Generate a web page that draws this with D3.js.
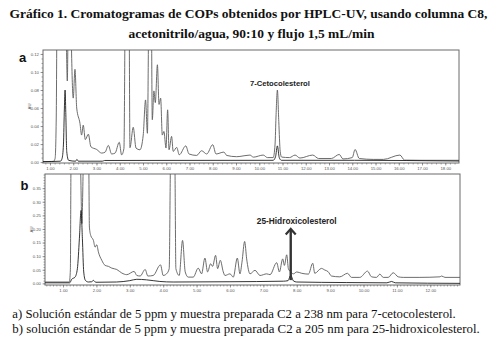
<!DOCTYPE html>
<html>
<head>
<meta charset="utf-8">
<script src="https://cdn.jsdelivr.net/npm/d3@7"></script>
<style>
  body { margin: 0; background: #ffffff; }
</style>
</head>
<body>
<div id="chart"></div>
<script>
// textos
var titleLines = [
    'Gráfico 1. Cromatogramas de COPs obtenidos por HPLC-UV, usando columna C8,',
    'acetonitrilo/agua, 90:10 y flujo 1,5 mL/min'
];
var captionLines = [
    'a) Solución estándar de 5 ppm y muestra preparada C2 a 238 nm para 7-cetocolesterol.',
    'b) solución estándar de 5 ppm y muestra preparada C2 a 205 nm para 25-hidroxicolesterol.'
];

// panel a : tiempo (min) y absorbancia (AU)
var timeSampleA = [0.70, 1.15, 1.22, 1.27, 1.31, 1.45, 1.62, 1.70, 1.745, 1.80, 1.87, 1.93, 2.00, 2.075, 2.15,
    2.29, 2.36, 2.43, 2.52, 2.65, 2.76, 3.01, 3.22, 3.37, 3.51, 3.65, 3.80, 3.98, 4.08, 4.18, 4.24, 4.33, 4.40,
    4.44, 4.58, 4.70, 4.87, 5.01, 5.11, 5.19, 5.26, 5.34, 5.40, 5.47, 5.53, 5.62, 5.69, 5.76, 5.83, 5.90, 5.99,
    6.06, 6.12, 6.23, 6.30, 6.45, 6.56, 6.84, 6.98, 7.31, 7.52, 7.74, 8.00, 8.14, 8.48, 8.60, 9.03, 9.17, 9.60,
    9.75, 10.17, 10.35, 10.60, 10.68, 10.72, 10.78, 10.84, 10.90, 10.96, 11.30, 11.54, 11.75, 12.30, 12.55,
    13.10, 13.44, 13.60, 14.00, 14.12, 14.30, 14.90, 15.34, 16.05, 16.25, 17.00, 18.60];
var sampleA = [0.0005, 0.0008, 0.004, 0.05, 0.20, 0.30, 0.20, 0.14, 0.09, 0.20, 0.22, 0.12, 0.071, 0.103, 0.060,
    0.043, 0.030, 0.041, 0.025, 0.031, 0.017, 0.014, 0.010, 0.011, 0.0185, 0.009, 0.010, 0.022, 0.008, 0.015, 0.20, 0.35, 0.20,
    0.016, 0.0386, 0.0156, 0.0137, 0.030, 0.069, 0.032, 0.20, 0.25, 0.047, 0.079, 0.066, 0.108, 0.064, 0.071, 0.030, 0.034, 0.0156,
    0.058, 0.0137, 0.0285, 0.0119, 0.0163, 0.0081, 0.018, 0.009, 0.0074, 0.0126, 0.009, 0.0193, 0.009, 0.0111, 0.0074, 0.006, 0.0063, 0.0078,
    0.0055, 0.0078, 0.005, 0.005, 0.02, 0.05, 0.080, 0.045, 0.012, 0.0056, 0.005, 0.0078, 0.0045, 0.0078, 0.004,
    0.004, 0.0085, 0.0035, 0.005, 0.014, 0.004, 0.003, 0.003, 0.0078, 0.0022, 0.002, 0.002];
var timeStdA = [0.70, 1.45, 1.52, 1.58, 1.62, 1.65, 1.68, 1.72, 1.80, 2.10, 2.16, 2.22, 3.25, 3.35, 10.60, 10.70,
    10.78, 10.86, 10.95, 14.10, 18.60];
var stdA = [0.0005, 0.001, 0.004, 0.02, 0.06, 0.080, 0.055, 0.012, 0.002, 0.001, 0.003, 0.001, 0.001, 0.0018, 0.002, 0.006,
    0.018, 0.005, 0.002, 0.002, 0.0012];

// panel b
var timeSampleB = [0.46, 1.19, 1.22, 1.24, 1.40, 1.52, 1.565, 1.61, 1.70, 1.77, 1.79, 1.83, 1.91, 1.96, 2.01, 2.06,
    2.16, 2.26, 2.36, 2.46, 2.61, 2.76, 2.91, 3.13, 3.21, 3.31, 3.46, 3.54, 3.70, 3.92, 4.00, 4.10, 4.18, 4.22,
    4.30, 4.35, 4.38, 4.48, 4.58, 4.66, 4.75, 4.90, 5.05, 5.15, 5.25, 5.33, 5.42, 5.48, 5.57, 5.63, 5.71, 5.80,
    5.85, 6.00, 6.10, 6.22, 6.30, 6.36, 6.44, 6.50, 6.60, 6.75, 6.90, 7.10, 7.20, 7.40, 7.48, 7.58, 7.63, 7.70,
    7.75, 7.82, 7.90, 8.00, 8.15, 8.35, 8.48, 8.54, 8.74, 8.84, 8.94, 9.04, 9.29, 9.52, 9.64, 9.89, 10.12, 10.24,
    10.39, 10.49, 10.59, 10.74, 10.89, 11.04, 11.19, 11.69, 12.29, 12.34, 12.44, 12.89];
var sampleB = [0.005, 0.005, 0.05, 0.45, 0.60, 0.45, 0.22, 0.45, 0.60, 0.45, 0.207, 0.176, 0.158, 0.133, 0.142, 0.115,
    0.085, 0.066, 0.0625, 0.056, 0.051, 0.038, 0.032, 0.044, 0.029, 0.027, 0.051, 0.027, 0.029, 0.068, 0.029, 0.035, 0.054, 0.45,
    0.60, 0.45, 0.054, 0.029, 0.158, 0.042, 0.023, 0.023, 0.056, 0.035, 0.093, 0.042, 0.072, 0.0625, 0.103, 0.054, 0.085, 0.042,
    0.029, 0.035, 0.023, 0.093, 0.035, 0.078, 0.154, 0.090, 0.035, 0.048, 0.029, 0.035, 0.032, 0.076, 0.042, 0.090, 0.066, 0.105,
    0.054, 0.042, 0.035, 0.042, 0.037, 0.034, 0.074, 0.037, 0.055, 0.049, 0.043, 0.027, 0.024, 0.037, 0.022, 0.022, 0.045, 0.024,
    0.022, 0.034, 0.022, 0.022, 0.039, 0.024, 0.022, 0.022, 0.024, 0.027, 0.022, 0.022];
var timeStdB = [0.46, 1.20, 1.26, 1.36, 1.43, 1.49, 1.54, 1.58, 1.62, 1.67, 1.76, 1.86, 1.91, 1.98, 2.60, 3.00,
    3.21, 3.50, 3.90, 4.30, 6.00, 7.60, 7.74, 7.82, 7.90, 8.00, 9.50, 10.70, 10.84, 10.95, 12.89];
var stdB = [0.002, 0.002, 0.015, 0.023, 0.054, 0.164, 0.268, 0.164, 0.042, 0.011, 0.005, 0.006, 0.011, 0.004, 0.005, 0.010,
    0.015, 0.013, 0.007, 0.005, 0.006, 0.008, 0.010, 0.030, 0.009, 0.005, 0.003, 0.002, 0.007, 0.002, 0.0];

// ejes
var xTicksA = d3.range(1, 19);
var yTicksA = [0.00, 0.02, 0.04, 0.06, 0.08, 0.10, 0.12];
var xTicksB = d3.range(1, 13);
var yTicksB = [0.00, 0.05, 0.10, 0.15, 0.20, 0.25, 0.30, 0.35];

// anotaciones: [texto, tiempo, AU]
var labelA = ['7-Cetocolesterol', 10.89, 0.0848];
var labelB = ['25-Hidroxicolesterol', 8.0, 0.218];
var arrowB = [7.82, 0.012, 0.200];

var svgwidth = 497, svgheight = 364;
var _svg = d3.select('#chart').append('svg')
    .attr('width', svgwidth)
    .attr('height', svgheight)
    .style('font-family', 'Liberation Sans, Arial, sans-serif');

//ajusta el tamaño de letra para que el texto mida "ancho" px
function fitText(sel, baseSize, widths) {
    sel.each(function (d, i) {
        var w = this.getComputedTextLength();
        d3.select(this).style('font-size', (baseSize * widths[i] / w).toFixed(2) + 'px');
    });
}

//titulo
var _title = _svg.selectAll('.title')
    .data(titleLines)
    .enter()
    .append('text')
    .attr('class', 'title')
    .attr('x', function (d, i) { return i === 0 ? 248.5 : 251.5; })
    .attr('y', function (d, i) { return 17.5 + i * 20; })
    .attr('text-anchor', 'middle')
    .style('font-family', 'Liberation Serif, serif')
    .style('font-weight', 'bold').style('font-size', '14px')
    .attr('fill', '#111')
    .text(function (d) { return d; });
fitText(_title, 14, [478, 246]);

//pie de figura
var _caption = _svg.selectAll('.caption')
    .data(captionLines)
    .enter()
    .append('text')
    .attr('class', 'caption')
    .attr('x', 12.3)
    .attr('y', function (d, i) { return 317.7 + i * 15.6; })
    .style('font-family', 'Liberation Serif, serif')
    .style('font-size', '12px')
    .attr('fill', '#111')
    .text(function (d) { return d; });
fitText(_caption, 12, [444, 468]);

function drawPanel(cfg) {
    var x = d3.scaleLinear().domain(cfg.xDomain).range([cfg.left, cfg.right]);
    var y = d3.scaleLinear().domain(cfg.yDomain).range([cfg.bottom, cfg.top]);
    var g = _svg.append('g').attr('id', 'panel' + cfg.name);

    g.append('clipPath').attr('id', 'clip' + cfg.name)
        .append('rect')
        .attr('x', cfg.left).attr('y', cfg.top)
        .attr('width', cfg.right - cfg.left).attr('height', cfg.bottom - cfg.top);

    //ejes con marcas menores
    var xMinor = d3.axisBottom(x).tickValues(d3.range(Math.ceil(cfg.xDomain[0] / cfg.xMinorStep) * cfg.xMinorStep, cfg.xDomain[1], cfg.xMinorStep))
        .tickSize(1.5).tickFormat('');
    g.append('g').attr('transform', 'translate(0,' + cfg.bottom + ')').call(xMinor);
    var xAxis = d3.axisBottom(x).tickValues(cfg.xTicks).tickSize(2.5).tickPadding(1.5)
        .tickFormat(d3.format('.2f'));
    g.append('g').attr('transform', 'translate(0,' + cfg.bottom + ')').call(xAxis);

    var yMinor = d3.axisLeft(y).tickValues(d3.range(0, cfg.yDomain[1], cfg.yMinorStep))
        .tickSize(1.5).tickFormat('');
    g.append('g').attr('transform', 'translate(' + cfg.left + ',0)').call(yMinor);
    var yAxis = d3.axisLeft(y).tickValues(cfg.yTicks).tickSize(2.5).tickPadding(1.5)
        .tickFormat(d3.format('.2f'));
    g.append('g').attr('transform', 'translate(' + cfg.left + ',0)').call(yAxis);

    g.selectAll('.domain').remove();
    g.selectAll('.tick line').attr('stroke', '#666').attr('stroke-width', 0.6);
    g.selectAll('.tick text').attr('fill', '#555').style('font-size', '4.3px')
        .style('font-family', 'Liberation Sans, Arial, sans-serif');

    //marco
    g.append('rect')
        .attr('x', cfg.left).attr('y', cfg.top)
        .attr('width', cfg.right - cfg.left).attr('height', cfg.bottom - cfg.top)
        .attr('fill', 'none').attr('stroke', '#6a6a6a').attr('stroke-width', 1);

    g.append('text')
        .attr('transform', 'translate(' + (cfg.left - 12.5) + ',' + ((cfg.top + cfg.bottom) / 2) + ') rotate(-90)')
        .attr('text-anchor', 'middle')
        .style('font-size', '4.3px')
        .attr('fill', '#555')
        .text('AU');

    //letra del panel
    g.append('text')
        .attr('x', cfg.letterX).attr('y', cfg.letterY)
        .style('font-size', cfg.letterSize).style('font-weight', 'bold')
        .attr('fill', '#111')
        .text(cfg.name);

    var line = d3.line()
        .x(function (d) { return x(d[0]); })
        .y(function (d) { return y(d[1]); })
        .curve(d3.curveMonotoneX);

    var traces = [
        {t: cfg.timeSample, v: cfg.sample, color: '#5c5c5c'},
        {t: cfg.timeStd, v: cfg.std, color: '#1e1e1e'}
    ];
    g.selectAll('.trace')
        .data(traces)
        .enter()
        .append('path')
        .attr('class', 'trace')
        .attr('clip-path', 'url(#clip' + cfg.name + ')')
        .attr('fill', 'none')
        .attr('stroke', function (d) { return d.color; })
        .attr('stroke-width', 0.9)
        .attr('stroke-linejoin', 'round')
        .attr('d', function (d) {
            return line(d.t.map(function (t, i) { return [t, d.v[i]]; }));
        });

    var lbl = g.append('text')
        .attr('x', x(cfg.label[1])).attr('y', y(cfg.label[2]))
        .attr('text-anchor', 'middle')
        .style('font-size', '8.5px').style('font-weight', 'bold')
        .attr('fill', '#222')
        .text(cfg.label[0]);
    fitText(lbl, 8.5, [cfg.labelWidth]);
    return {x: x, y: y, g: g};
}

drawPanel({
    name: 'a', left: 43, right: 459, top: 50, bottom: 163,
    xDomain: [0.70, 18.59], yDomain: [-0.001, 0.1244],
    xTicks: xTicksA, yTicks: yTicksA, xMinorStep: 0.2, yMinorStep: 0.005,
    timeSample: timeSampleA, sample: sampleA, timeStd: timeStdA, std: stdA,
    label: labelA, labelWidth: 60,
    letterX: 19, letterY: 61.7, letterSize: '13px'
});

var pb = drawPanel({
    name: 'b', left: 45, right: 460, top: 174, bottom: 285,
    xDomain: [0.46, 12.89], yDomain: [-0.006, 0.402],
    xTicks: xTicksB, yTicks: yTicksB, xMinorStep: 0.1, yMinorStep: 0.01,
    timeSample: timeSampleB, sample: sampleB, timeStd: timeStdB, std: stdB,
    label: labelB, labelWidth: 80,
    letterX: 20.5, letterY: 190, letterSize: '13px'
});

//flecha 25-hidroxicolesterol
var ax = pb.x(arrowB[0]);
pb.g.append('line')
    .attr('x1', ax).attr('x2', ax)
    .attr('y1', pb.y(arrowB[1])).attr('y2', pb.y(arrowB[2]) + 1)
    .attr('stroke', '#333').attr('stroke-width', 2.4);
pb.g.append('path')
    .attr('d', 'M' + (ax - 5) + ',' + (pb.y(arrowB[2]) + 5.5) + 'L' + ax + ',' + pb.y(arrowB[2]) +
        'L' + (ax + 5) + ',' + (pb.y(arrowB[2]) + 5.5))
    .attr('fill', 'none')
    .attr('stroke', '#333').attr('stroke-width', 2.2)
    .attr('stroke-linejoin', 'miter');
</script>
</body>
</html>
